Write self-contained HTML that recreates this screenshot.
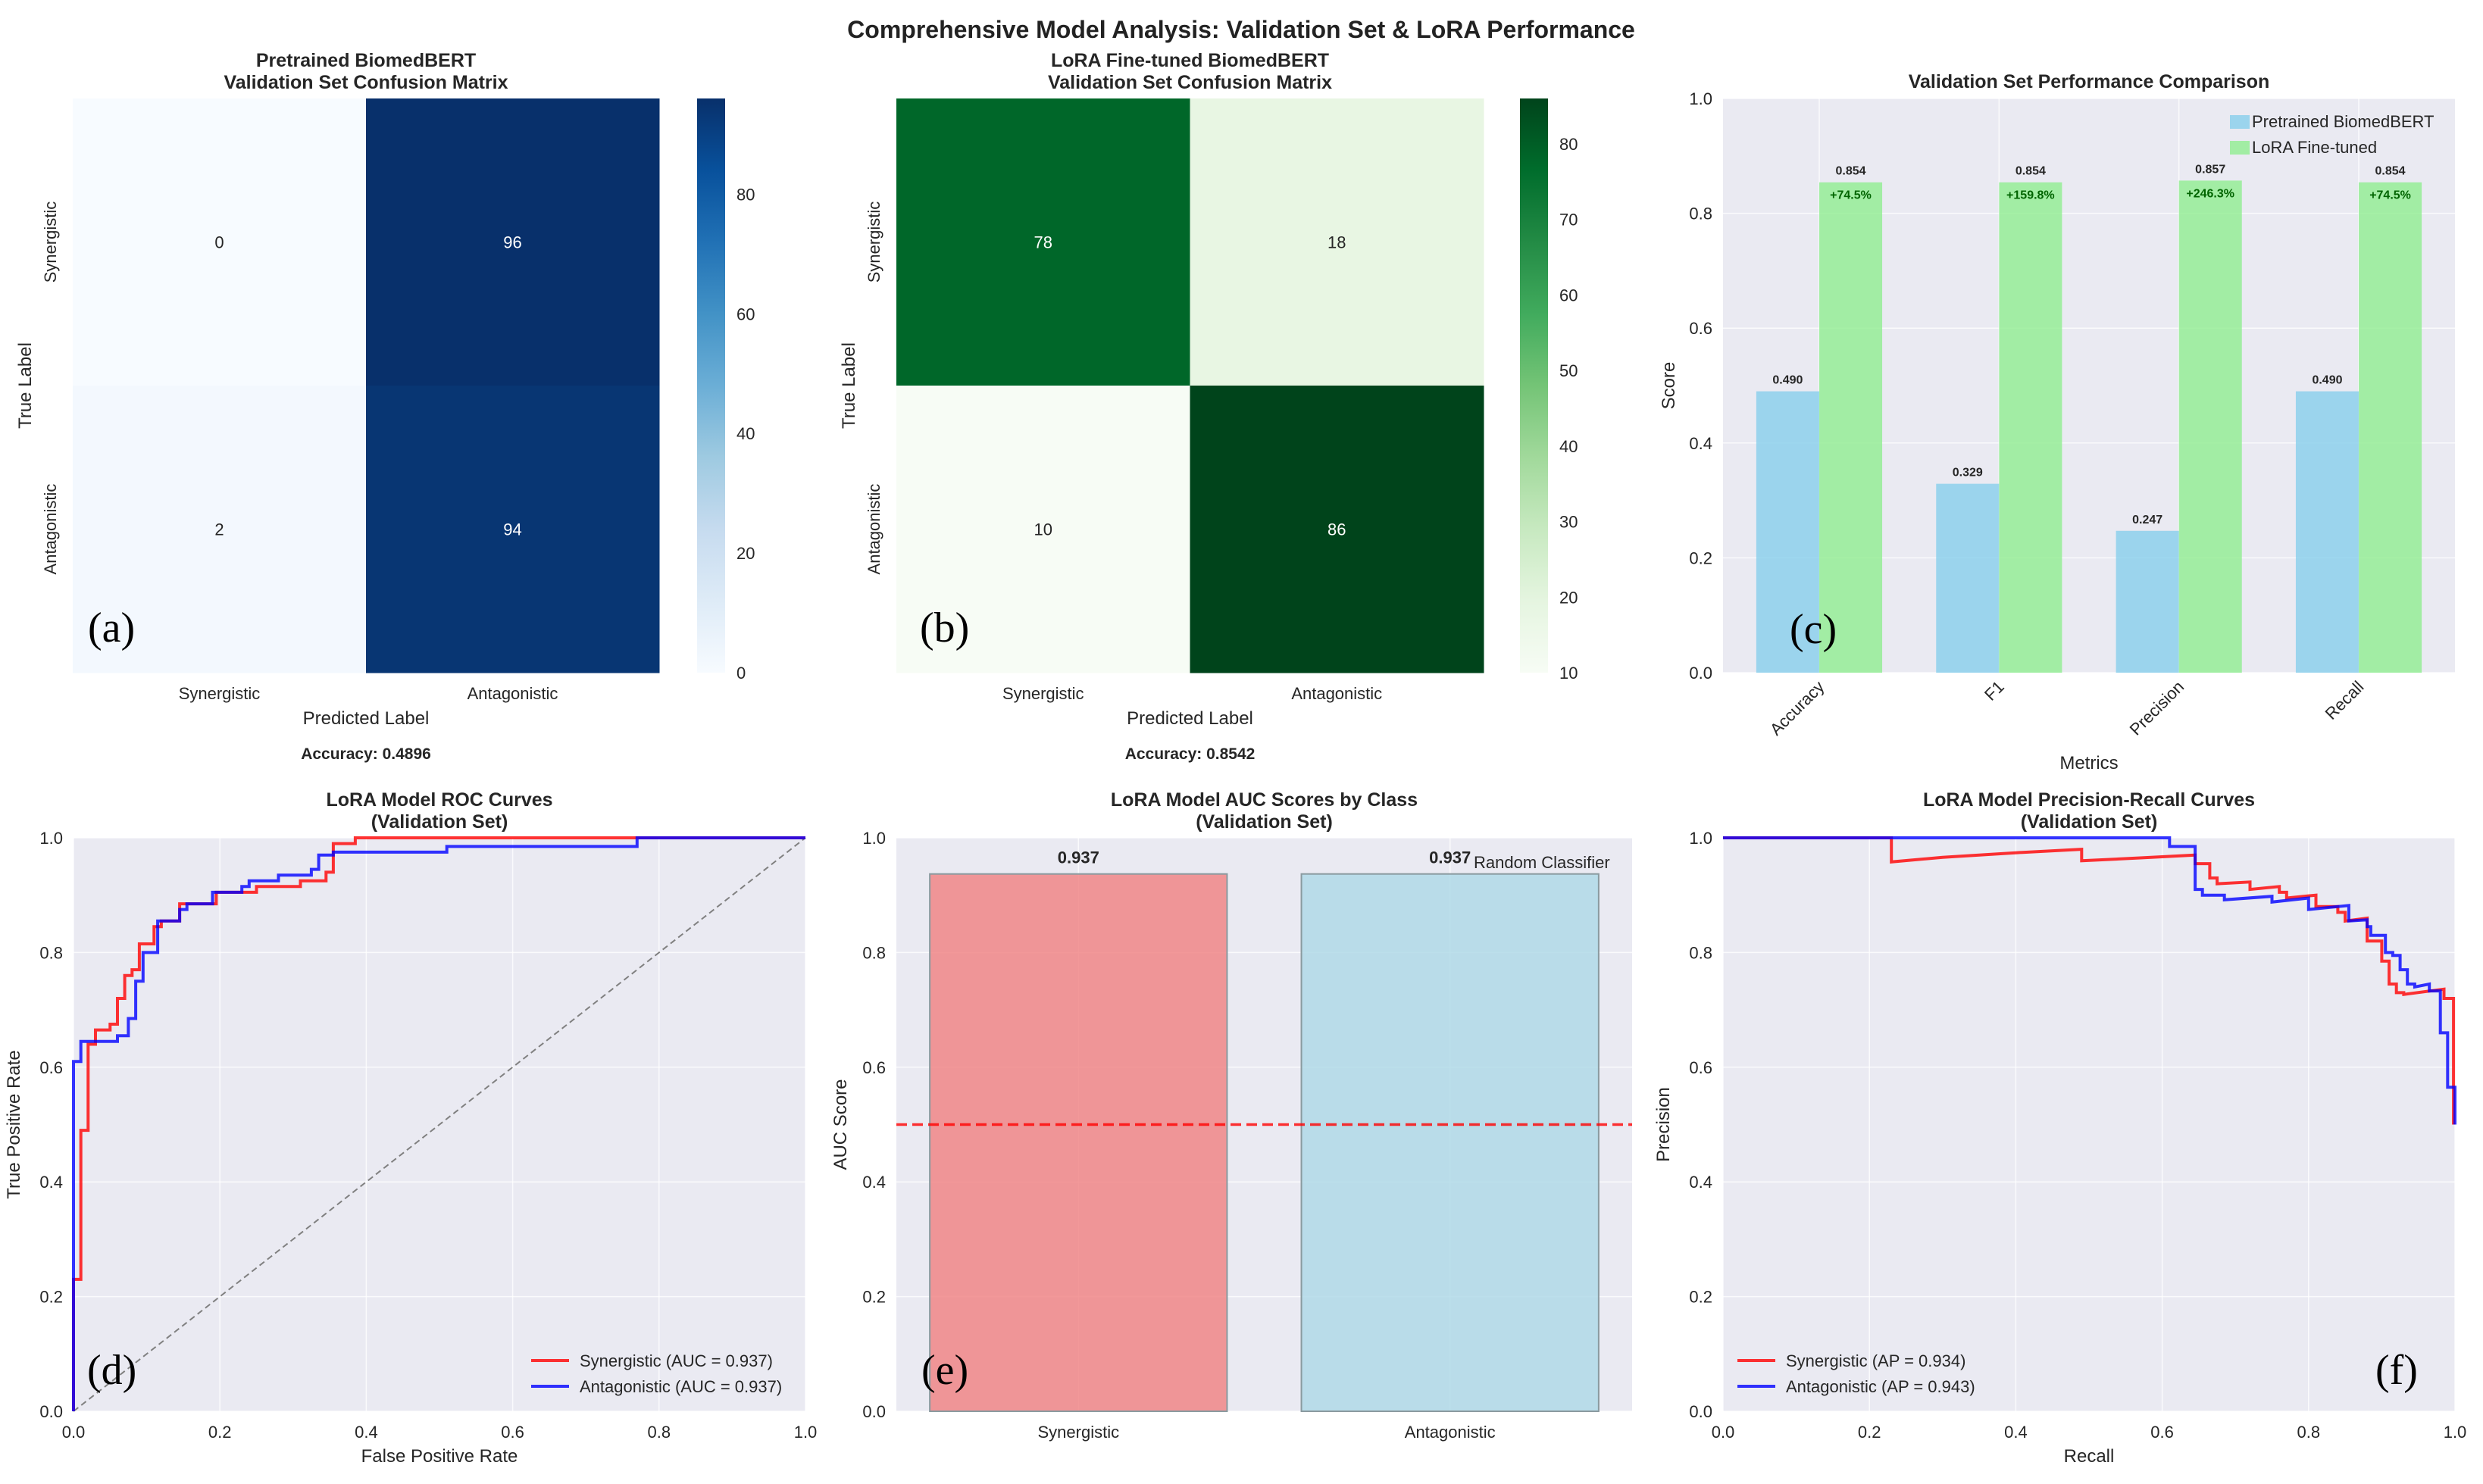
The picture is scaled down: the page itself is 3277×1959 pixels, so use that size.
<!DOCTYPE html>
<html><head><meta charset="utf-8"><style>
html,body{margin:0;padding:0;background:#fff;}
svg{display:block;font-family:"Liberation Sans",Arial,sans-serif;}
</style></head><body>
<svg id="fig" xmlns="http://www.w3.org/2000/svg" width="3277" height="1959" viewBox="0 0 3277 1959">
<defs>
<linearGradient id="gBlues" x1="0" y1="1" x2="0" y2="0">
<stop offset="0" stop-color="#f7fbff"/><stop offset="0.125" stop-color="#deebf7"/><stop offset="0.25" stop-color="#c6dbef"/><stop offset="0.375" stop-color="#9ecae1"/><stop offset="0.5" stop-color="#6baed6"/><stop offset="0.625" stop-color="#4292c6"/><stop offset="0.75" stop-color="#2171b5"/><stop offset="0.875" stop-color="#08519c"/><stop offset="1" stop-color="#08306b"/>
</linearGradient>
<linearGradient id="gGreens" x1="0" y1="1" x2="0" y2="0">
<stop offset="0" stop-color="#f7fcf5"/><stop offset="0.125" stop-color="#e5f5e0"/><stop offset="0.25" stop-color="#c7e9c0"/><stop offset="0.375" stop-color="#a1d99b"/><stop offset="0.5" stop-color="#74c476"/><stop offset="0.625" stop-color="#41ab5d"/><stop offset="0.75" stop-color="#238b45"/><stop offset="0.875" stop-color="#006d2c"/><stop offset="1" stop-color="#00441b"/>
</linearGradient>
</defs>
<text x="1638" y="50" font-size="32" font-weight="bold" text-anchor="middle" fill="#222">Comprehensive Model Analysis: Validation Set &amp; LoRA Performance</text>
<g id="root"></g>
</svg>
<script>
// ---------- data ----------
const classLabels = ["Synergistic", "Antagonistic"];
const cmPretrained = [[0, 96], [2, 94]];
const cmLora = [[78, 18], [10, 86]];
const accPretrained = "Accuracy: 0.4896";
const accLora = "Accuracy: 0.8542";
const cbTicksA = [0, 20, 40, 60, 80];
const cbTicksB = [10, 20, 30, 40, 50, 60, 70, 80];

const metricNames = ["Accuracy", "F1", "Precision", "Recall"];
const pretrainedScores = [0.490, 0.329, 0.247, 0.490];
const loraScores = [0.854, 0.854, 0.857, 0.854];
const improvements = ["+74.5%", "+159.8%", "+246.3%", "+74.5%"];

const rocSynFpr = [0,0,0.01,0.01,0.02,0.02,0.03,0.03,0.05,0.05,0.06,0.06,0.07,0.07,0.08,0.08,0.09,0.09,0.11,0.11,0.12,0.12,0.145,0.145,0.195,0.195,0.25,0.25,0.31,0.31,0.345,0.345,0.355,0.355,0.385,0.385,1];
const rocSynTpr = [0,0.23,0.23,0.49,0.49,0.64,0.64,0.665,0.665,0.675,0.675,0.72,0.72,0.76,0.76,0.77,0.77,0.815,0.815,0.845,0.845,0.855,0.855,0.885,0.885,0.905,0.905,0.915,0.915,0.925,0.925,0.94,0.94,0.99,0.99,1,1];
const rocAntFpr = [0,0,0.01,0.01,0.06,0.06,0.075,0.075,0.085,0.085,0.095,0.095,0.115,0.115,0.145,0.145,0.155,0.155,0.19,0.19,0.23,0.23,0.24,0.24,0.28,0.28,0.325,0.325,0.335,0.335,0.355,0.355,0.51,0.51,0.77,0.77,1];
const rocAntTpr = [0,0.61,0.61,0.645,0.645,0.655,0.655,0.685,0.685,0.75,0.75,0.80,0.80,0.855,0.855,0.875,0.875,0.885,0.885,0.905,0.905,0.915,0.915,0.925,0.925,0.935,0.935,0.945,0.945,0.97,0.97,0.975,0.975,0.985,0.985,1,1];
const rocLegend = ["Synergistic (AUC = 0.937)", "Antagonistic (AUC = 0.937)"];

const aucClasses = ["Synergistic", "Antagonistic"];
const aucValues = [0.937, 0.937];
const randomLine = 0.5;

const prSynRecall = [0,0.23,0.23,0.3,0.4,0.49,0.49,0.57,0.645,0.645,0.665,0.665,0.675,0.675,0.72,0.72,0.76,0.76,0.77,0.77,0.81,0.81,0.84,0.84,0.85,0.85,0.88,0.88,0.9,0.9,0.91,0.91,0.92,0.92,0.93,0.93,0.985,0.985,0.998,0.998];
const prSynPrec = [1,1,0.958,0.966,0.974,0.98,0.96,0.965,0.97,0.955,0.955,0.93,0.93,0.92,0.923,0.91,0.915,0.905,0.905,0.895,0.90,0.88,0.88,0.87,0.87,0.855,0.86,0.82,0.82,0.785,0.785,0.745,0.745,0.73,0.73,0.727,0.736,0.72,0.72,0.5];
const prAntRecall = [0,0.61,0.61,0.645,0.645,0.655,0.655,0.685,0.685,0.75,0.75,0.8,0.8,0.855,0.855,0.88,0.88,0.885,0.885,0.905,0.905,0.915,0.915,0.925,0.925,0.935,0.935,0.945,0.945,0.965,0.965,0.98,0.98,0.99,0.99,1,1];
const prAntPrec = [1,1,0.985,0.985,0.91,0.91,0.90,0.90,0.892,0.898,0.888,0.895,0.875,0.882,0.855,0.857,0.845,0.845,0.83,0.83,0.80,0.80,0.795,0.795,0.77,0.77,0.745,0.745,0.74,0.745,0.733,0.733,0.66,0.66,0.565,0.565,0.5];
const prLegend = ["Synergistic (AP = 0.934)", "Antagonistic (AP = 0.943)"];

const unitTicks = [0, 0.2, 0.4, 0.6, 0.8, 1.0];

// ---------- helpers ----------
const NS = "http://www.w3.org/2000/svg";
const root = document.getElementById("root");
function mk(tag, attrs, parent) {
  const e = document.createElementNS(NS, tag);
  for (const k in attrs) e.setAttribute(k, attrs[k]);
  (parent || root).appendChild(e);
  return e;
}
function txt(s, attrs, parent) { const e = mk("text", attrs, parent); e.textContent = s; return e; }
function lin(d0, d1, r0, r1) { return v => r0 + (v - d0) / (d1 - d0) * (r1 - r0); }
const BG = "#eaeaf2", TXT = "#262626";

function lerpColor(stops, t) {
  t = Math.max(0, Math.min(1, t));
  const n = stops.length - 1, i = Math.min(n - 1, Math.floor(t * n)), f = t * n - i;
  const a = stops[i], b = stops[i + 1];
  const c = [0, 1, 2].map(k => Math.round(a[k] + (b[k] - a[k]) * f));
  return "rgb(" + c.join(",") + ")";
}
const blues = [[247,251,255],[222,235,247],[198,219,239],[158,202,225],[107,174,214],[66,146,198],[33,113,181],[8,81,156],[8,48,107]];
const greens = [[247,252,245],[229,245,224],[199,233,192],[161,217,155],[116,196,118],[65,171,93],[35,139,69],[0,109,44],[0,68,27]];

function panelLetter(s, x, y) {
  const t = txt(s, {x: x, y: y, "font-size": 56, "font-family": "'Liberation Serif',serif", fill: "#000"});
  
  
}
function title2(lines, cx, y0, name) {
  lines.forEach((l, i) => {
    const t = txt(l, {x: cx, y: y0 + i * 29, "font-size": 25, "font-weight": "bold", "text-anchor": "middle", fill: TXT});
    
    
  });
}

// ---------- heatmap ----------
function heatmap(cm, x0, x1, y0, y1, vmin, vmax, stops, grad, cbx, cbTicks, titles, acc, letter) {
  const g = mk("g", {});
  
  
  const cw = (x1 - x0) / 2, ch = (y1 - y0) / 2;
  for (let r = 0; r < 2; r++) for (let c = 0; c < 2; c++) {
    const v = cm[r][c], t = (v - vmin) / (vmax - vmin);
    const rc = mk("rect", {x: x0 + c * cw, y: y0 + r * ch, width: cw + 0.5, height: ch + 0.5, fill: lerpColor(stops, t)}, g);
    
    
    const tx = txt(String(v), {x: x0 + (c + 0.5) * cw, y: y0 + (r + 0.5) * ch + 8, "font-size": 22, "text-anchor": "middle", fill: t > 0.5 ? "#fff" : TXT}, g);
    
    
  }
  classLabels.forEach((l, i) => {
    const a = txt(l, {x: x0 + (i + 0.5) * cw, y: 923, "font-size": 22, "text-anchor": "middle", fill: TXT}, g);
    
    
    const yy = y0 + (i + 0.5) * ch;
    const b = txt(l, {x: x0 - 22, y: yy, "font-size": 22, "text-anchor": "middle", fill: TXT, transform: `rotate(-90 ${x0 - 22} ${yy})`}, g);
    
    
  });
  const xl = txt("Predicted Label", {x: (x0 + x1) / 2, y: 956, "font-size": 24, "text-anchor": "middle", fill: TXT}, g);
  
  
  const yc = (y0 + y1) / 2;
  const yl = txt("True Label", {x: x0 - 55, y: yc, "font-size": 24, "text-anchor": "middle", fill: TXT, transform: `rotate(-90 ${x0 - 55} ${yc})`}, g);
  
  
  const ac = txt(acc, {x: (x0 + x1) / 2, y: 1002, "font-size": 21, "font-weight": "bold", "text-anchor": "middle", fill: TXT}, g);
  
  
  const cb = mk("rect", {x: cbx, y: y0, width: 37, height: y1 - y0, fill: "url(#" + grad + ")"}, g);
  
  
  const cs = lin(vmin, vmax, y1, y0);
  cbTicks.forEach(v => {
    const t = txt(String(v), {x: cbx + 52, y: cs(v) + 8, "font-size": 22, fill: TXT}, g);
    
    
  });
  title2(titles, (x0 + x1) / 2, 88, 'subplot-title');
}
heatmap(cmPretrained, 96, 870, 130, 888, 0, 96, blues, "gBlues", 920, cbTicksA, ["Pretrained BiomedBERT", "Validation Set Confusion Matrix"], accPretrained, "a");
panelLetter("(a)", 116, 847);
heatmap(cmLora, 1183, 1958, 130, 888, 10, 86, greens, "gGreens", 2006, cbTicksB, ["LoRA Fine-tuned BiomedBERT", "Validation Set Confusion Matrix"], accLora, "b");
panelLetter("(b)", 1214, 847);

// ---------- generic axes ----------
function axes(x0, x1, y0, y1, xd, yd, xticks, yticks, name) {
  const g = mk("g", {});
  
  
  const bg = mk("rect", {x: x0, y: y0, width: x1 - x0, height: y1 - y0, fill: BG}, g);
  
  
  const sx = lin(xd[0], xd[1], x0, x1), sy = lin(yd[0], yd[1], y1, y0);
  if (xticks) xticks.forEach(v => {
    const gl = mk("line", {x1: sx(v), x2: sx(v), y1: y0, y2: y1, stroke: "#fff", "stroke-width": 1.5, opacity: 0.8}, g);
    
    
    const t = txt(v.toFixed(1), {x: sx(v), y: y1 + 35, "font-size": 22, "text-anchor": "middle", fill: TXT}, g);
    
    
  });
  yticks.forEach(v => {
    const gl = mk("line", {x1: x0, x2: x1, y1: sy(v), y2: sy(v), stroke: "#fff", "stroke-width": 1.5, opacity: 0.8}, g);
    
    
    const t = txt(v.toFixed(1), {x: x0 - 14, y: sy(v) + 8, "font-size": 22, "text-anchor": "end", fill: TXT}, g);
    
    
  });
  return {g, sx, sy};
}
function axisTitles(g, xlab, xy, ylab, yx, cy, cx) {
  if (xlab) {
    const t = txt(xlab, {x: cx, y: xy, "font-size": 24, "text-anchor": "middle", fill: TXT}, g);
    
    
  }
  const t2 = txt(ylab, {x: yx, y: cy, "font-size": 24, "text-anchor": "middle", fill: TXT, transform: `rotate(-90 ${yx} ${cy})`}, g);
  
  
}
function poly(g, xs, ys, sx, sy, color, name) {
  const pts = xs.map((x, i) => sx(x).toFixed(1) + "," + sy(ys[i]).toFixed(1)).join(" ");
  const p = mk("polyline", {points: pts, fill: "none", stroke: color, "stroke-width": 4, "stroke-opacity": 0.8, "stroke-linejoin": "miter"}, g);
  
  
}
function legend(g, items, colors, lx, ly) {
  items.forEach((s, i) => {
    const l = mk("line", {x1: lx, x2: lx + 50, y1: ly + i * 34, y2: ly + i * 34, stroke: colors[i], "stroke-width": 4, "stroke-opacity": 0.8}, g);
    
    
    const t = txt(s, {x: lx + 64, y: ly + i * 34 + 8, "font-size": 22, fill: TXT}, g);
    
    
  });
}

// ---------- (c) performance comparison ----------
(function () {
  const x0 = 2274, x1 = 3240, y0 = 130, y1 = 888;
  const A = axes(x0, x1, y0, y1, [-0.535, 3.535], [0, 1], null, unitTicks, "performance-comparison-chart");
  const g = A.g, sx = A.sx, sy = A.sy;
  const bw = 0.35;
  metricNames.forEach((m, i) => {
    const gl = mk("line", {x1: sx(i), x2: sx(i), y1: y0, y2: y1, stroke: "#fff", "stroke-width": 1.5, opacity: 0.8}, g);
    
    
  });
  metricNames.forEach((m, i) => {
    const pv = pretrainedScores[i], lv = loraScores[i];
    const b1 = mk("rect", {x: sx(i - bw), y: sy(pv), width: sx(i) - sx(i - bw), height: sy(0) - sy(pv), fill: "#87ceeb", "fill-opacity": 0.8}, g);
    
    
    const b2 = mk("rect", {x: sx(i), y: sy(lv), width: sx(i + bw) - sx(i), height: sy(0) - sy(lv), fill: "#90ee90", "fill-opacity": 0.8}, g);
    
    
    const t1 = txt(pv.toFixed(3), {x: sx(i - bw / 2), y: sy(pv) - 10, "font-size": 16, "font-weight": "bold", "text-anchor": "middle", fill: TXT}, g);
    
    
    const t2 = txt(lv.toFixed(3), {x: sx(i + bw / 2), y: sy(lv) - 10, "font-size": 16, "font-weight": "bold", "text-anchor": "middle", fill: TXT}, g);
    
    
    const t3 = txt(improvements[i], {x: sx(i + bw / 2), y: sy(lv) + 22, "font-size": 16, "font-weight": "bold", "text-anchor": "middle", fill: "#006400"}, g);
    
    
    const tx = sx(i) + 8, ty = 908;
    const tl = txt(m, {x: tx, y: ty, "font-size": 22, "text-anchor": "end", fill: TXT, transform: `rotate(-45 ${tx} ${ty})`}, g);
    
    
  });
  axisTitles(g, "Metrics", 1015, "Score", 2210, (y0 + y1) / 2, (x0 + x1) / 2);
  const leg = [["Pretrained BiomedBERT", "#87ceeb"], ["LoRA Fine-tuned", "#90ee90"]];
  leg.forEach((l, i) => {
    const r = mk("rect", {x: 2943, y: 152 + i * 34, width: 26, height: 18, fill: l[1], "fill-opacity": 0.8}, g);
    
    
    const t = txt(l[0], {x: 2972, y: 168 + i * 34, "font-size": 22, fill: TXT}, g);
    
    
  });
  title2(["Validation Set Performance Comparison"], (x0 + x1) / 2, 116, 'subplot-title');
  panelLetter("(c)", 2362, 849);
})();

// ---------- (d) ROC ----------
(function () {
  const x0 = 97, x1 = 1063, y0 = 1106, y1 = 1863;
  const A = axes(x0, x1, y0, y1, [0, 1], [0, 1], unitTicks, unitTicks, "roc-chart");
  const g = A.g, sx = A.sx, sy = A.sy;
  const d = mk("line", {x1: sx(0), y1: sy(0), x2: sx(1), y2: sy(1), stroke: "#808080", "stroke-width": 2, "stroke-dasharray": "8,5"}, g);
  
  
  poly(g, rocSynFpr, rocSynTpr, sx, sy, "#ff0000", "roc-line-synergistic");
  poly(g, rocAntFpr, rocAntTpr, sx, sy, "#0000ff", "roc-line-antagonistic");
  legend(g, rocLegend, ["#ff0000", "#0000ff"], 701, 1796);
  axisTitles(g, "False Positive Rate", 1930, "True Positive Rate", 26, (y0 + y1) / 2, (x0 + x1) / 2);
  title2(["LoRA Model ROC Curves", "(Validation Set)"], (x0 + x1) / 2, 1064, 'subplot-title');
  panelLetter("(d)", 115, 1827);
})();

// ---------- (e) AUC bars ----------
(function () {
  const x0 = 1183, x1 = 2154, y0 = 1106, y1 = 1863;
  const A = axes(x0, x1, y0, y1, [-0.49, 1.49], [0, 1], null, unitTicks, "auc-bar-chart");
  const g = A.g, sx = A.sx, sy = A.sy;
  const cols = ["#f08080", "#add8e6"];
  aucClasses.forEach((c, i) => {
    const gl = mk("line", {x1: sx(i), x2: sx(i), y1: y0, y2: y1, stroke: "#fff", "stroke-width": 1.5, opacity: 0.8}, g);
    
    
  });
  aucClasses.forEach((c, i) => {
    const v = aucValues[i];
    const b = mk("rect", {x: sx(i - 0.4), y: sy(v), width: sx(i + 0.4) - sx(i - 0.4), height: sy(0) - sy(v), fill: cols[i], "fill-opacity": 0.8, stroke: "#8a9a9f", "stroke-width": 2}, g);
    
    
    const t = txt(v.toFixed(3), {x: sx(i), y: sy(v) - 14, "font-size": 22, "font-weight": "bold", "text-anchor": "middle", fill: TXT}, g);
    
    
    const tl = txt(c, {x: sx(i), y: y1 + 35, "font-size": 22, "text-anchor": "middle", fill: TXT}, g);
    
    
  });
  const rl = mk("line", {x1: x0, x2: x1, y1: sy(randomLine), y2: sy(randomLine), stroke: "#ff0000", "stroke-width": 3.5, "stroke-opacity": 0.8, "stroke-dasharray": "14,7"}, g);
  
  
  const rt = txt("Random Classifier", {x: 1945, y: 1146, "font-size": 22, fill: TXT}, g);
  
  
  axisTitles(g, null, 0, "AUC Score", 1117, (y0 + y1) / 2, 0);
  title2(["LoRA Model AUC Scores by Class", "(Validation Set)"], (x0 + x1) / 2, 1064, 'subplot-title');
  panelLetter("(e)", 1216, 1827);
})();

// ---------- (f) PR ----------
(function () {
  const x0 = 2274, x1 = 3240, y0 = 1106, y1 = 1863;
  const A = axes(x0, x1, y0, y1, [0, 1], [0, 1], unitTicks, unitTicks, "precision-recall-chart");
  const g = A.g, sx = A.sx, sy = A.sy;
  poly(g, prSynRecall, prSynPrec, sx, sy, "#ff0000", "pr-line-synergistic");
  poly(g, prAntRecall, prAntPrec, sx, sy, "#0000ff", "pr-line-antagonistic");
  legend(g, prLegend, ["#ff0000", "#0000ff"], 2293, 1796);
  axisTitles(g, "Recall", 1930, "Precision", 2203, (y0 + y1) / 2, (x0 + x1) / 2);
  title2(["LoRA Model Precision-Recall Curves", "(Validation Set)"], (x0 + x1) / 2, 1064, 'subplot-title');
  panelLetter("(f)", 3135, 1827);
})();
</script>
</body></html>
